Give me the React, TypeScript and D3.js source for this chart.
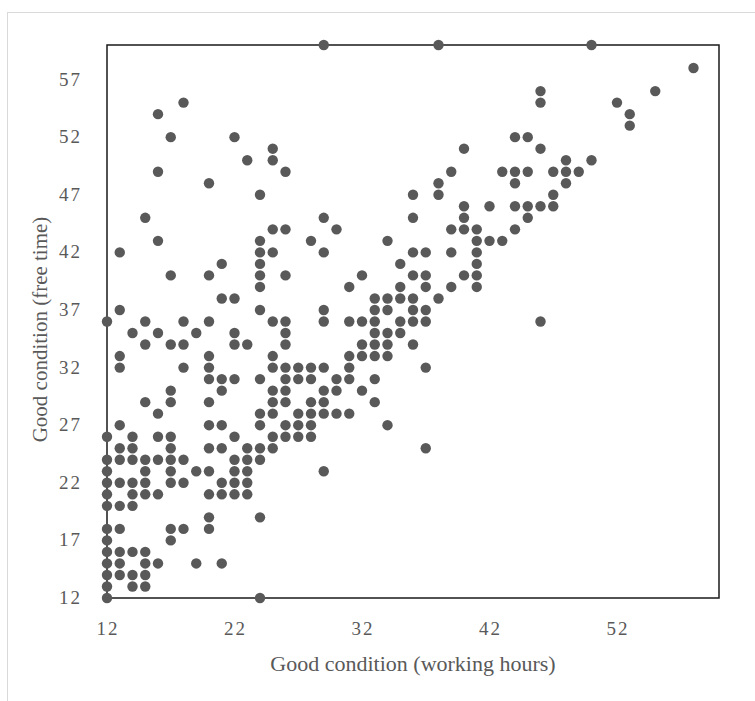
import * as d3 from "d3";
import { useEffect, useRef } from "react";

const xTicks = [12, 22, 32, 42, 52];
const yTicks = [12, 17, 22, 27, 32, 37, 42, 47, 52, 57];

// free time level, then the working hours values seen on that row
const freeTimeRows = [
  60, 58, 56, 55, 54, 53, 52, 51, 50, 49, 48, 47, 46, 45, 44, 43, 42, 41, 40, 39,
  38, 37, 36, 35, 34, 33, 32, 31, 30, 29, 28, 27, 26, 25, 24, 23, 22, 21, 20, 19,
  18, 17, 16, 15, 14, 13, 12,
];
const workingHoursRows = [
  [29, 38, 50],
  [58],
  [46, 55],
  [18, 46, 52],
  [16, 53],
  [53],
  [17, 22, 44, 45],
  [25, 40, 46],
  [23, 25, 48, 50],
  [16, 26, 39, 43, 44, 45, 47, 48, 49],
  [20, 38, 44, 48],
  [24, 36, 38, 47],
  [40, 42, 44, 45, 46, 47],
  [15, 29, 36, 40, 45],
  [25, 26, 30, 39, 40, 41, 44],
  [16, 24, 28, 34, 41, 42, 43],
  [13, 24, 25, 29, 36, 37, 39, 41],
  [21, 24, 35, 41],
  [17, 20, 24, 26, 32, 36, 37, 40, 41],
  [24, 31, 35, 37, 39, 41],
  [21, 22, 33, 34, 35, 36, 38],
  [13, 24, 29, 33, 34, 36, 37],
  [12, 15, 18, 20, 25, 26, 29, 31, 32, 33, 35, 36, 37, 46],
  [14, 16, 19, 22, 26, 33, 34, 35],
  [15, 17, 18, 22, 23, 26, 32, 33, 34, 36],
  [13, 20, 25, 31, 32, 33, 34],
  [13, 18, 20, 25, 26, 27, 28, 29, 31, 37],
  [20, 21, 22, 24, 26, 27, 28, 30, 31, 33],
  [17, 21, 25, 26, 29, 30, 32],
  [15, 17, 20, 25, 26, 28, 29, 33],
  [16, 24, 25, 27, 28, 29, 30, 31],
  [13, 20, 21, 24, 26, 27, 28, 34],
  [12, 14, 16, 17, 22, 25, 26, 27, 28],
  [13, 14, 17, 20, 21, 23, 24, 25, 37],
  [12, 13, 14, 15, 16, 17, 18, 22, 23, 24],
  [12, 15, 17, 19, 20, 22, 23, 29],
  [12, 13, 14, 15, 17, 18, 21, 22, 23],
  [12, 14, 15, 16, 20, 21, 22, 23],
  [12, 13, 14],
  [20, 24],
  [12, 13, 17, 18, 20],
  [12, 17],
  [12, 13, 14, 15],
  [12, 13, 15, 16, 19, 21],
  [12, 13, 14, 15],
  [12, 14, 15],
  [12, 24],
];

const width = 755;
const height = 701;
const font = "'Liberation Serif', 'Times New Roman', serif";
const grey = "#595959";

const drawChart = (node: SVGSVGElement) => {
  const svg = d3.select(node);
  svg.selectAll("*").remove();

  const points = freeTimeRows.flatMap((y, i) =>
    workingHoursRows[i].map(x => ({ x, y }))
  );

  const x = d3.scaleLinear().domain([12, 60]).range([107, 719]);
  const y = d3.scaleLinear().domain([12, 60]).range([598, 45]);

  // light outer frame of the chart area
  svg
    .append("rect")
    .attr("x", 7.5)
    .attr("y", 12.5)
    .attr("width", 800)
    .attr("height", 800)
    .attr("fill", "white")
    .attr("stroke", "#d9d9d9");

  svg
    .append("rect")
    .attr("x", x(12))
    .attr("y", y(60))
    .attr("width", x(60) - x(12))
    .attr("height", y(12) - y(60))
    .attr("fill", "none")
    .attr("stroke", "#1a1a1a")
    .attr("stroke-width", 1.5);

  svg
    .append("g")
    .selectAll("text")
    .data(xTicks)
    .enter()
    .append("text")
    .attr("x", d => x(d) + 1)
    .attr("y", 635)
    .attr("text-anchor", "middle")
    .style("font-family", font)
    .style("font-size", "19px")
    .style("letter-spacing", "2px")
    .attr("fill", grey)
    .text(d => d);

  svg
    .append("g")
    .selectAll("text")
    .data(yTicks)
    .enter()
    .append("text")
    .attr("x", 82)
    .attr("y", d => y(d) + 6)
    .attr("text-anchor", "end")
    .style("font-family", font)
    .style("font-size", "19px")
    .style("letter-spacing", "2px")
    .attr("fill", grey)
    .text(d => d);

  svg
    .append("text")
    .attr("x", (x(12) + x(60)) / 2)
    .attr("y", 671)
    .attr("text-anchor", "middle")
    .style("font-family", font)
    .style("font-size", "22px")
    .attr("fill", grey)
    .text("Good condition (working hours)");

  svg
    .append("text")
    .attr("transform", `translate(47, ${(y(12) + y(60)) / 2 + 8}) rotate(-90)`)
    .attr("text-anchor", "middle")
    .style("font-family", font)
    .style("font-size", "21px")
    .attr("fill", grey)
    .text("Good condition (free time)");

  svg
    .append("g")
    .selectAll("circle")
    .data(points)
    .enter()
    .append("circle")
    .attr("cx", d => x(d.x))
    .attr("cy", d => y(d.y))
    .attr("r", 5.2)
    .attr("fill", grey);
};

export default function App() {
  const ref = useRef<SVGSVGElement>(null);

  useEffect(() => {
    if (ref.current) drawChart(ref.current);
  }, []);

  return (
    <svg
      ref={ref}
      width={width}
      height={height}
      style={{ position: "absolute", left: 0, top: 0, background: "white" }}
    />
  );
}
